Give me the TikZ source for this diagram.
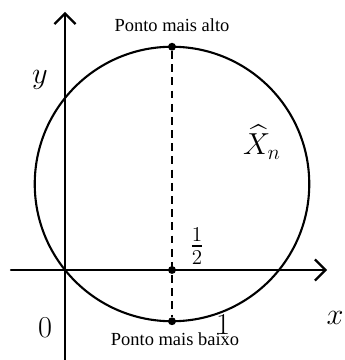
\documentclass[tikz,border=0pt]{standalone}
\usepackage{amsmath,amssymb}
\usepackage{fontspec}
\newfontfamily\ptfont{Liberation Serif}
\usepackage{tikz}
\usetikzlibrary{calc,arrows.meta}

\tikzset{
  axis/.style={line width=1.3pt,-{Straight Barb[length=6pt,width=12pt,line width=1.3pt]}},
  mathlbl/.style={inner sep=0pt,font=\fontsize{17}{20}\selectfont},
  ptlbl/.style={inner sep=0pt,font=\ptfont\fontsize{10.5}{12}\selectfont},
  pt/.style={circle,fill,inner sep=0pt,minimum size=4.5pt}
}

\begin{document}
\begin{tikzpicture}[scale=1.0,line cap=round]
  \useasboundingbox (-1.3,-1.8) rectangle (5.58,5.4);
  \def\R{2.745}
  % --- axes ---
  \coordinate (O) at (0,0);
  \coordinate (xs) at (-1.08,0);
  \coordinate (xe) at (5.24,0);
  \coordinate (ys) at (0,-1.8);
  \coordinate (ye) at (0,5.16);
  \draw[axis] (xs) -- (xe);
  \draw[axis] (ys) -- (ye);

  % --- circle through the origin ---
  \coordinate (C) at (2.14,1.72);
  \draw[line width=1.2pt] (C) circle (\R);

  % highest and lowest points
  \node[pt] (top) at ($(C)+(0,\R)$) {};
  \node[pt] (mid) at (2.14,0) {};
  \node[pt] (bot) at ($(C)-(0,\R)$) {};
  \draw[line width=1pt,dash pattern=on 4.5pt off 3pt,line cap=butt] (top) -- (bot);

  % labels
  \node[ptlbl] (alto) at (2.14,4.9) {Ponto mais alto};
  \node[ptlbl] (baixo) at (2.2,-1.38) {Ponto mais baixo};
  \node[mathlbl] (half) at (2.64,0.48) {$\frac{1}{2}$};
  \node[mathlbl] (one) at (3.16,-1.1) {$1$};
  \node[mathlbl] (zero) at (-0.4,-1.16) {$0$};
  \node[mathlbl] (xl) at (5.4,-0.96) {$x$};
  \node[mathlbl] (yl) at (-0.5,3.8) {$y$};
  \node[mathlbl] (Xn) at (3.94,2.56) {$\widehat{X}_n$};
\end{tikzpicture}
\end{document}
